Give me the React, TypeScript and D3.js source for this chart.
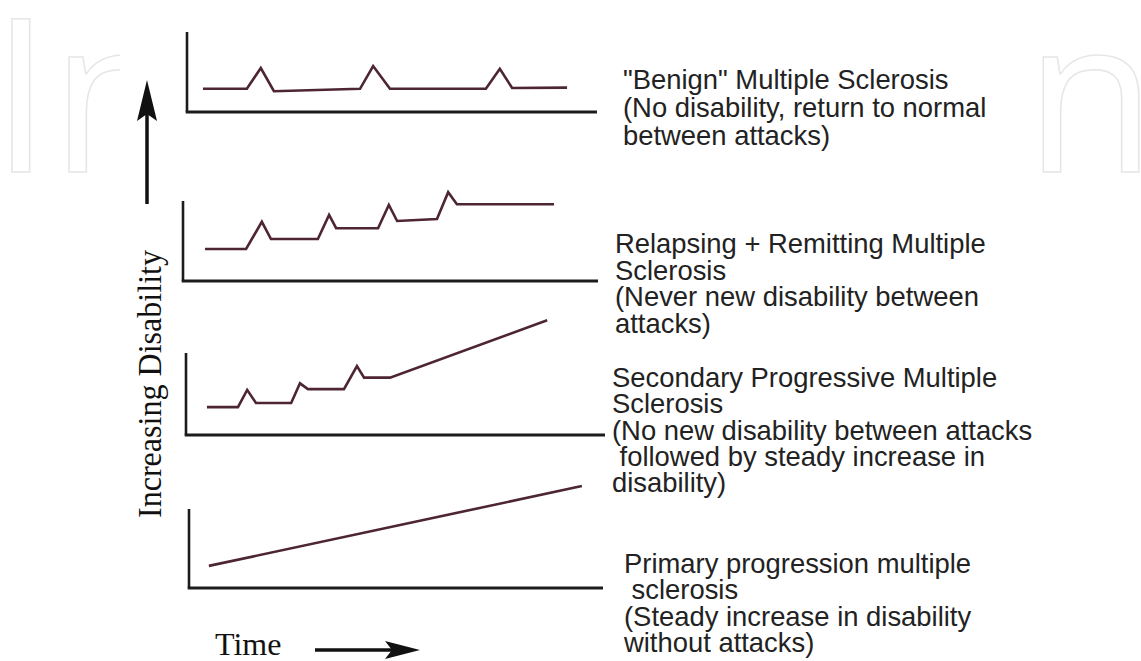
import React from "react";
import * as d3 from "d3";

// ---- data (time: 0-100 along each panel, level: 0-10 panel height) ----
const benignTime = [3.9, 14.6, 18.0, 21.2, 42.2, 45.4, 49.5, 72.9, 76.3, 79.3, 92.7];
const benignLevel = [2.9, 2.9, 5.5, 2.6, 2.9, 5.75, 2.9, 2.9, 5.4, 3.0, 3.05];

const relapsingTime = [5.3, 15.2, 19.0, 21.2, 32.5, 35.2, 36.9, 47.0, 49.6, 51.6, 61.2, 63.9, 66.0, 89.4];
const relapsingLevel = [4.0, 4.0, 7.4, 5.25, 5.25, 8.25, 6.6, 6.6, 9.5, 7.5, 7.75, 11.1, 9.6, 9.6];

const secondaryTime = [5.0, 12.4, 14.6, 16.7, 25.1, 27.2, 29.1, 37.7, 40.8, 42.5, 48.7, 86.2];
const secondaryLevel = [3.4, 3.4, 5.5, 3.9, 3.9, 6.3, 5.6, 5.6, 8.4, 7.0, 7.0, 14.0];

const primaryTime = [4.8, 94.9];
const primaryLevel = [2.8, 12.9];

const benignLabel = ['"Benign" Multiple Sclerosis', "(No disability, return to normal", "between attacks)"];
const relapsingLabel = ["Relapsing + Remitting Multiple", "Sclerosis", "(Never new disability between", "attacks)"];
const secondaryLabel = [
  "Secondary Progressive Multiple",
  "Sclerosis",
  "(No new disability between attacks",
  " followed by steady increase in",
  "disability)",
];
const primaryLabel = ["Primary progression multiple", " sclerosis", "(Steady increase in disability", "without attacks)"];

const yAxisTitle = "Increasing Disability";
const xAxisTitle = "Time";

// ---- layout ----
const W = 1141;
const H = 661;
const LINE = "#4d2535";
const AXIS = "#1c1c1c";
const TEXT = "#222";
const SANS = "'Liberation Sans', Arial, sans-serif";
const SERIF = "'Liberation Serif', 'Times New Roman', serif";

const panels = [
  { time: benignTime, level: benignLevel, label: benignLabel, x0: 187, x1: 597, yBase: 112, yTop: 32, tx: 623, ty: 89, lh: 27.8 },
  { time: relapsingTime, level: relapsingLevel, label: relapsingLabel, x0: 183, x1: 598, yBase: 281, yTop: 201, tx: 615, ty: 253, lh: 26.7 },
  { time: secondaryTime, level: secondaryLevel, label: secondaryLabel, x0: 186, x1: 605, yBase: 435, yTop: 353, tx: 612, ty: 387, lh: 26.3 },
  { time: primaryTime, level: primaryLevel, label: primaryLabel, x0: 189, x1: 603, yBase: 588, yTop: 509, tx: 624, ty: 573, lh: 26.3 },
];

function Panel({ p }: { p: (typeof panels)[number] }) {
  const x = d3.scaleLinear().domain([0, 100]).range([p.x0, p.x1]);
  const y = d3.scaleLinear().domain([0, 10]).range([p.yBase, p.yTop]);
  const pts = p.time.map((t, i) => [t, p.level[i]] as [number, number]);
  const line = d3
    .line<[number, number]>()
    .x((d) => x(d[0]))
    .y((d) => y(d[1]));
  return (
    <g>
      <line x1={x(0)} x2={x(0)} y1={y(0)} y2={y(10)} stroke={AXIS} strokeWidth={2.6} />
      <line x1={x(0) - 1.3} x2={x(100)} y1={y(0)} y2={y(0)} stroke={AXIS} strokeWidth={3} />
      <path d={line(pts) || ""} fill="none" stroke={LINE} strokeWidth={2.6} strokeLinejoin="miter" />
      <text fontFamily={SANS} fontSize={27.4} fill={TEXT} style={{ whiteSpace: "pre" }}>
        {p.label.map((s, i) => (
          <tspan key={i} x={p.tx} y={p.ty + i * p.lh}>
            {s}
          </tspan>
        ))}
      </text>
    </g>
  );
}

export default function App() {
  const wm = {
    fontFamily: "'Open Sans', sans-serif",
    fontSize: 214,
    fill: "#fff",
    stroke: "#e6e6e6",
    strokeWidth: 1.5,
  } as const;
  return (
    <svg width={W} height={H} style={{ position: "absolute", left: 0, top: 0, background: "#fff" }}>
      <rect width={W} height={H} fill="#fff" />
      {/* faint watermark pieces visible around the figure */}
      <text x={-9} y={172} {...wm}>
        In
      </text>
      <text x={1025} y={172} {...wm}>
        n
      </text>
      <rect x={120} y={19} width={920} height={H - 19} fill="#fff" />

      {panels.map((p, i) => (
        <Panel key={i} p={p} />
      ))}

      {/* y axis title + arrow */}
      <line x1={147} x2={147} y1={204} y2={112} stroke="#111" strokeWidth={3.5} />
      <path d="M147,80 L157,121 L147,114 L137,121 Z" fill="#111" />
      <text
        transform="translate(161,518) rotate(-90)"
        fontFamily={SERIF}
        fontSize={34}
        fill="#111"
        textLength={268}
        lengthAdjust="spacingAndGlyphs"
      >
        {yAxisTitle}
      </text>

      {/* x axis title + arrow */}
      <text x={215} y={655} fontFamily={SERIF} fontSize={32} fill="#111">
        {xAxisTitle}
      </text>
      <line x1={315} x2={392} y1={650} y2={650} stroke="#111" strokeWidth={3.5} />
      <path d="M420,650 L385,641 L392,650 L385,659 Z" fill="#111" />
    </svg>
  );
}
